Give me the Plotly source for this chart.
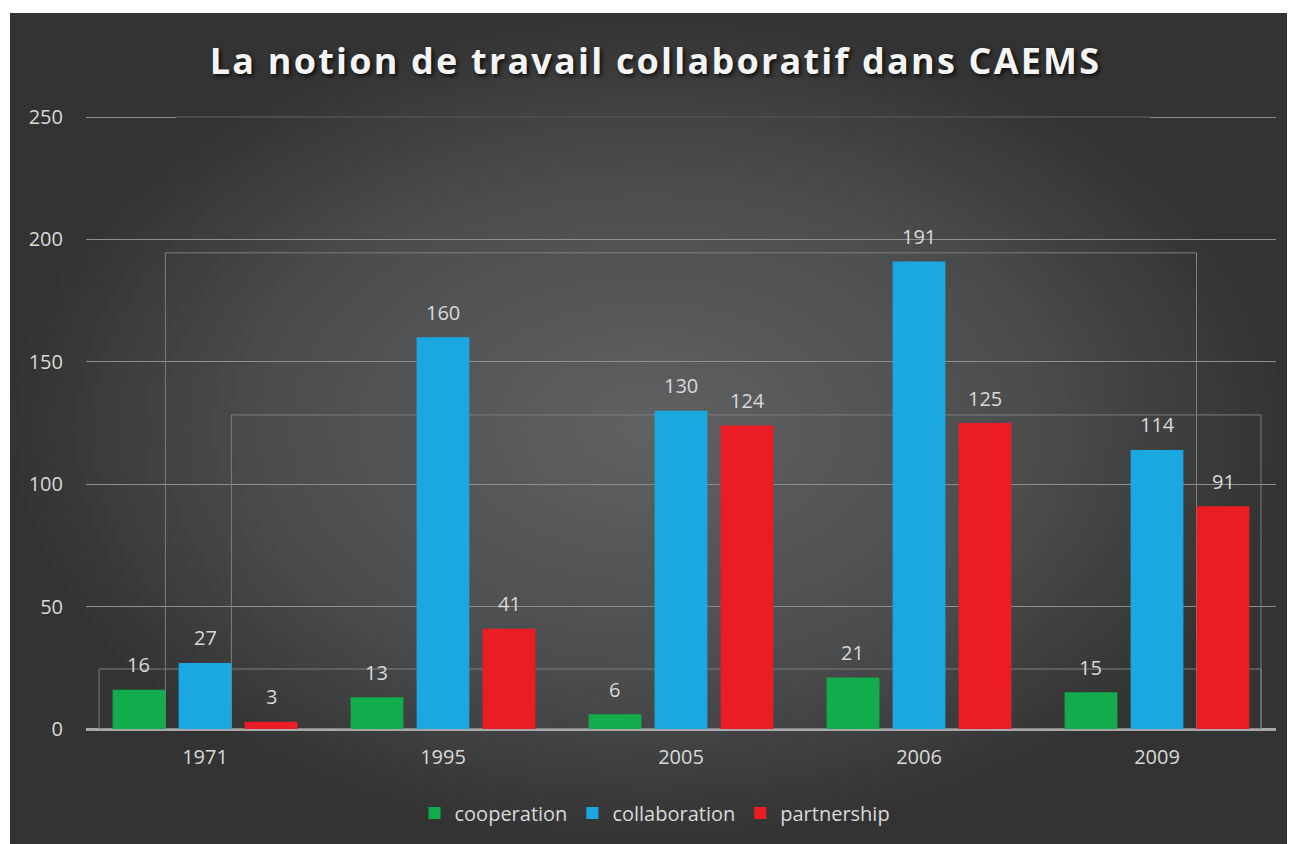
import plotly.graph_objects as go

# ---- data ----
years = ["1971", "1995", "2005", "2006", "2009"]
cooperation = [16, 13, 6, 21, 15]
collaboration = [27, 160, 130, 191, 114]
partnership = [3, 41, 124, 125, 91]
series_names = ["cooperation", "collaboration", "partnership"]
series_colors = ["#13ac4c", "#1ba8e0", "#ec1c24"]
y_ticks = [0, 50, 100, 150, 200, 250]
title_text = "La notion de travail collaboratif dans CAEMS"

W, H = 1295, 844
FONT = "Open Sans"
TXT = "#d9d9d9"
BARGAP = 0.168
BARGROUPGAP = 0.2
Y_MAX = 251          # a hair above 250 so the top gridline is not clipped
PX_PER_UNIT = 612 / 250
Y0_PX = 729

fig = go.Figure()

# background panel with radial gradient (full-figure helper axes)
fig.add_trace(go.Scatter(
    x=[10, 1287, 1287, 10, 10], y=[13, 13, 844, 844, 13],
    mode="lines", line=dict(width=0), fill="toself",
    fillgradient=dict(type="radial",
                      colorscale=[[0, "#606163"], [0.6, "#4b4c4e"], [1, "#333333"]]),
    hoverinfo="skip", showlegend=False, xaxis="x", yaxis="y"))

all_series = [cooperation, collaboration, partnership]
for name, vals, col in zip(series_names, all_series, series_colors):
    fig.add_trace(go.Bar(
        x=years, y=vals, name=name, marker=dict(color=col, line=dict(width=0)),
        xaxis="x2", yaxis="y2", hoverinfo="skip"))

# value labels above bars
slot = (1 - BARGAP) / len(all_series)
annotations = []
for k, vals in enumerate(all_series):
    off = (k - (len(all_series) - 1) / 2) * slot
    for i, v in enumerate(vals):
        annotations.append(dict(
            x=i + off, y=v, xref="x2", yref="y2", text=str(v), showarrow=False,
            yshift=25, yanchor="middle", font=dict(family=FONT, size=20, color=TXT)))

# decorative frame artefacts present in the original picture
frames = [(-0.1664, 4.166, 194.5), (0.1109, 4.437, 128.3), (-0.445, 4.437, 24.5)]
shapes = []
for x0, x1, yt in frames:
    shapes.append(dict(type="rect", xref="x2", yref="y2", x0=x0, x1=x1, y0=0, y1=yt,
                       line=dict(color="#7e7e7e", width=1), fillcolor="rgba(0,0,0,0)",
                       layer="between"))
shapes.append(dict(type="line", xref="x2", yref="y2", x0=-0.122, x1=3.971, y0=250, y1=250,
                   line=dict(color="#4c4c4e", width=2), layer="between"))

top_px = Y0_PX - Y_MAX * PX_PER_UNIT

fig.update_layout(
    width=W, height=H,
    margin=dict(l=0, r=0, t=0, b=0, autoexpand=False),
    paper_bgcolor="white", plot_bgcolor="rgba(0,0,0,0)",
    barmode="group", bargap=BARGAP, bargroupgap=BARGROUPGAP,
    title=dict(text=title_text, x=655.5 / W, xanchor="center", xref="container",
               y=1 - 61 / H, yanchor="middle", yref="container", automargin=False,
               font=dict(family=FONT, size=36, weight="bold", color="#f4f4f4",
                         shadow="2px 2px 4px rgba(0,0,0,0.8)")),
    xaxis=dict(domain=[0, 1], range=[0, W], visible=False, fixedrange=True,
               automargin=False),
    yaxis=dict(domain=[0, 1], range=[H, 0], visible=False, fixedrange=True,
               automargin=False),
    xaxis2=dict(domain=[86 / W, 1276 / W], anchor="y2", showgrid=False, showline=False,
                ticks="", tickfont=dict(family=FONT, size=20, color=TXT),
                ticklabelstandoff=14, fixedrange=True, automargin=False),
    yaxis2=dict(domain=[1 - Y0_PX / H, 1 - top_px / H], anchor="x2", range=[0, Y_MAX],
                tickvals=y_ticks, showgrid=True, gridcolor="#8e8e8e", gridwidth=1,
                zeroline=True, zerolinecolor="#a8a8a8", zerolinewidth=3,
                showline=False, ticks="", ticklabelstandoff=22, automargin=False,
                tickfont=dict(family=FONT, size=20, color=TXT), fixedrange=True),
    legend=dict(orientation="h", x=655 / W, xanchor="center", y=1 - 813 / H,
                yanchor="middle", font=dict(family=FONT, size=20, color=TXT),
                bgcolor="rgba(0,0,0,0)", itemwidth=30),
    annotations=annotations, shapes=shapes,
)

post = ("document.body.style.margin='0';"
        "document.querySelectorAll('.gtitle').forEach(function(e){"
        "e.style.letterSpacing='2.2px';});")
fig.write_html("out.html", post_script=post, config={"displayModeBar": False})
